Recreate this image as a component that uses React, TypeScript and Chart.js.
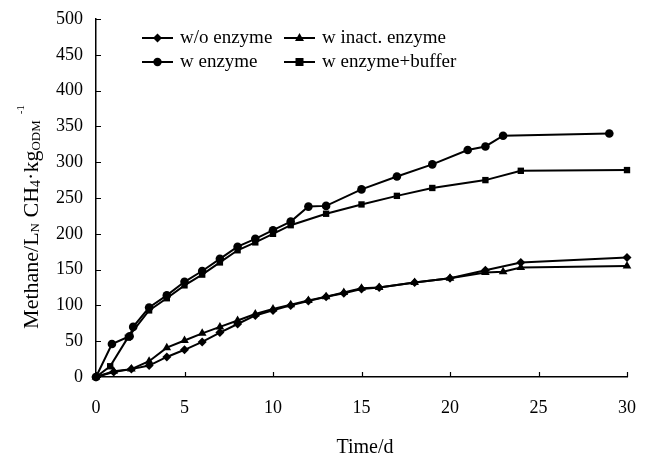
import React, { useEffect, useRef } from "react";
import { Chart, registerables } from "chart.js";

Chart.register(...registerables);

// Cumulative methane yield per series (day, L_N CH4 / kg ODM)
const woEnzymeDays = [0, 1, 2, 3, 4, 5, 6, 7, 8, 9, 10, 11, 12, 13, 14, 15, 16, 18, 20, 22, 24, 30];
const woEnzymeValues = [0, 7, 11, 16, 28, 38, 49, 62, 74, 86, 93, 100, 106, 112, 117, 123, 125, 132, 138, 149, 160, 167];

const inactDays = [0, 1, 2, 3, 4, 5, 6, 7, 8, 9, 10, 11, 12, 13, 14, 15, 16, 18, 20, 22, 23, 24, 30];
const inactValues = [0, 8, 11, 22, 41, 51, 61, 70, 79, 88, 95, 101, 107, 112, 118, 124, 125, 132, 138, 146, 147, 153, 155];

const enzymeDays = [0, 0.9, 1.9, 2.1, 3, 4, 5, 6, 7, 8, 9, 10, 11, 12, 13, 15, 17, 19, 21, 22, 23, 29];
const enzymeValues = [0, 46, 57, 70, 97, 114, 133, 148, 165, 182, 193, 205, 217, 238, 239, 262, 280, 297, 317, 322, 337, 340];

const bufferDays = [0, 0.8, 1.8, 3, 4, 5, 6, 7, 8, 9, 10, 11, 13, 15, 17, 19, 22, 24, 30];
const bufferValues = [0, 15, 55, 93, 110, 128, 143, 160, 177, 188, 200, 212, 228, 241, 253, 264, 275, 288, 289];

const seriesLabels = ["w/o enzyme", "w inact. enzyme", "w enzyme", "w enzyme+buffer"];
const xTickValues = [0, 5, 10, 15, 20, 25, 30];
const yTickValues = [0, 50, 100, 150, 200, 250, 300, 350, 400, 450, 500];

const FONT = '"Liberation Serif", "Times New Roman", serif';

const toPoints = (days: number[], values: number[]) =>
  days.map((d, i) => ({ x: d, y: values[i] }));

type Style = "rectRot" | "triangle" | "circle" | "rect";

function drawMarker(ctx: CanvasRenderingContext2D, style: Style, x: number, y: number) {
  ctx.beginPath();
  if (style === "circle") {
    ctx.arc(x, y, 4.2, 0, Math.PI * 2);
  } else if (style === "rect") {
    ctx.rect(x - 4, y - 4, 8, 8);
  } else if (style === "rectRot") {
    const r = 4.5;
    ctx.moveTo(x, y - r);
    ctx.lineTo(x + r, y);
    ctx.lineTo(x, y + r);
    ctx.lineTo(x - r, y);
    ctx.closePath();
  } else {
    const r = 5;
    ctx.moveTo(x, y - r);
    ctx.lineTo(x + r * 0.9, y + r * 0.6);
    ctx.lineTo(x - r * 0.9, y + r * 0.6);
    ctx.closePath();
  }
  ctx.fill();
}

const decorations = {
  id: "decorations",
  afterDraw(chart: any) {
    const { ctx, chartArea, scales } = chart;
    ctx.save();
    ctx.strokeStyle = "#000";
    ctx.fillStyle = "#000";
    ctx.lineWidth = 1.2;

    // inward tick marks
    ctx.beginPath();
    yTickValues.forEach((v) => {
      const py = Math.round(scales.y.getPixelForValue(v)) + 0.5;
      ctx.moveTo(chartArea.left, py);
      ctx.lineTo(chartArea.left + 5, py);
    });
    xTickValues.forEach((v) => {
      const px = Math.round(scales.x.getPixelForValue(v)) + 0.5;
      ctx.moveTo(px, chartArea.bottom);
      ctx.lineTo(px, chartArea.bottom - 5);
    });
    ctx.stroke();

    // legend
    const styles: Style[] = ["rectRot", "triangle", "circle", "rect"];
    const cols = [142, 284];
    const rows = [38, 62];
    ctx.font = `19px ${FONT}`;
    ctx.textBaseline = "middle";
    ctx.textAlign = "left";
    seriesLabels.forEach((label, i) => {
      const x0 = cols[i % 2];
      const y0 = rows[Math.floor(i / 2)];
      ctx.lineWidth = 2;
      ctx.beginPath();
      ctx.moveTo(x0, y0);
      ctx.lineTo(x0 + 31, y0);
      ctx.stroke();
      drawMarker(ctx, styles[i], x0 + 15.5, y0);
      ctx.fillText(label, x0 + 38, y0);
    });

    // x axis title
    ctx.textAlign = "center";
    ctx.font = `20px ${FONT}`;
    ctx.fillText("Time/d", 365, 448);

    // y axis title with sub/superscripts
    const parts: { t: string; size: number; dy: number; gap?: number }[] = [
      { t: "Methane/L", size: 22, dy: 0 },
      { t: "N", size: 13, dy: 4 },
      { t: " CH", size: 22, dy: 0 },
      { t: "4", size: 14, dy: 4 },
      { t: "\u00b7kg", size: 22, dy: 0 },
      { t: "ODM", size: 13, dy: 5 },
      { t: "-1", size: 11, dy: -11, gap: 6 },
    ];
    let total = 0;
    parts.forEach((p) => {
      ctx.font = `${p.size}px ${FONT}`;
      total += ctx.measureText(p.t).width + (p.gap || 0);
    });
    ctx.translate(32, 217);
    ctx.rotate(-Math.PI / 2);
    ctx.textAlign = "left";
    let cx = -total / 2;
    parts.forEach((p) => {
      ctx.font = `${p.size}px ${FONT}`;
      cx += p.gap || 0;
      ctx.fillText(p.t, cx, p.dy);
      cx += ctx.measureText(p.t).width;
    });
    ctx.restore();
  },
};

export default function App() {
  const canvasRef = useRef<HTMLCanvasElement | null>(null);

  useEffect(() => {
    document.body.style.margin = "0";
    const canvas = canvasRef.current;
    if (!canvas) return;

    const line = (label: string, days: number[], values: number[], style: Style, radius: number) => ({
      label,
      data: toPoints(days, values),
      showLine: true,
      clip: false as const,
      borderColor: "#000",
      backgroundColor: "#000",
      borderWidth: 2,
      pointStyle: style,
      pointRadius: radius,
      pointBorderWidth: 0,
      pointBackgroundColor: "#000",
      tension: 0,
    });

    const chart = new Chart(canvas, {
      type: "scatter",
      data: {
        datasets: [
          line(seriesLabels[0], woEnzymeDays, woEnzymeValues, "rectRot", 4.5),
          line(seriesLabels[1], inactDays, inactValues, "triangle", 5),
          line(seriesLabels[2], enzymeDays, enzymeValues, "circle", 4.3),
          line(seriesLabels[3], bufferDays, bufferValues, "rect", 4.5),
        ],
      },
      options: {
        responsive: false,
        animation: false,
        layout: { padding: { left: 0, right: 21, top: 19, bottom: 0 } },
        plugins: {
          legend: { display: false },
          tooltip: { enabled: false },
        },
        scales: {
          x: {
            type: "linear",
            min: 0,
            max: 30,
            afterFit: (s: any) => {
              s.height = 80;
              s.paddingLeft = 0;
              s.paddingRight = 0;
            },
            afterBuildTicks: (s: any) => {
              s.ticks = xTickValues.map((v) => ({ value: v }));
            },
            grid: { display: true, drawOnChartArea: false, drawTicks: false },
            border: { display: true, color: "#000", width: 1.5 },
            ticks: {
              color: "#000",
              font: { family: FONT, size: 18 },
              padding: 20,
              maxRotation: 0,
            },
          },
          y: {
            type: "linear",
            min: 0,
            max: 500,
            afterFit: (s: any) => {
              s.width = 96;
              s.paddingTop = 0;
              s.paddingBottom = 0;
            },
            afterBuildTicks: (s: any) => {
              s.ticks = yTickValues.map((v) => ({ value: v }));
            },
            grid: { display: true, drawOnChartArea: false, drawTicks: false },
            border: { display: true, color: "#000", width: 1.5 },
            ticks: {
              color: "#000",
              font: { family: FONT, size: 18 },
              padding: 13,
            },
          },
        },
      },
      plugins: [decorations],
    });

    return () => chart.destroy();
  }, []);

  return <canvas ref={canvasRef} width={648} height={457} style={{ display: "block" }} />;
}
